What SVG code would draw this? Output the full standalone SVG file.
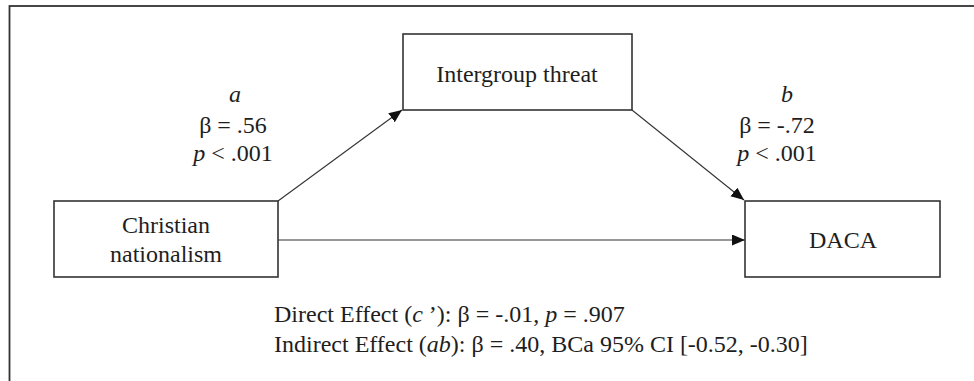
<svg xmlns="http://www.w3.org/2000/svg" width="974" height="381" viewBox="0 0 974 381">
<style>
text{font-family:"Liberation Serif","Times New Roman",serif;fill:#1e1e1e;font-size:24px}
.box{fill:#fff;stroke:#333;stroke-width:1.6}
.c{text-anchor:middle}
.i{font-style:italic}
.ln{stroke:#333;stroke-width:1.1;fill:none}
</style>
<defs>
<marker id="ah" markerUnits="userSpaceOnUse" markerWidth="14" markerHeight="12" refX="13" refY="5.5" orient="auto">
<path d="M0,0 L13,5.5 L0,11 z" fill="#111"/>
</marker>
</defs>
<rect x="9.5" y="6" width="1000" height="400" fill="#fff" stroke="#333" stroke-width="1.8"/>
<g id="connectors">
<line class="ln" x1="278" y1="201" x2="402" y2="110" marker-end="url(#ah)"/>
<line class="ln" x1="632" y1="110" x2="744" y2="200" marker-end="url(#ah)"/>
<line class="ln" x1="278" y1="240" x2="745" y2="240" marker-end="url(#ah)"/>
</g>
<g id="node-threat">
<rect class="box" x="403" y="34" width="229" height="76"/>
<text class="c" x="517" y="82">Intergroup threat</text>
</g>
<g id="node-cn">
<rect class="box" x="54" y="201" width="224" height="76"/>
<text class="c" x="166" y="233">Christian</text>
<text class="c" x="166" y="262">nationalism</text>
</g>
<g id="node-daca">
<rect class="box" x="745" y="201" width="195" height="76"/>
<text class="c" x="843" y="248">DACA</text>
</g>
<g id="label-a">
<text class="c i" x="235" y="102">a</text>
<text class="c" x="233" y="133">β = .56</text>
<text class="c" x="233" y="161"><tspan class="i">p</tspan> &lt; .001</text>
</g>
<g id="label-b">
<text class="c i" x="787" y="102">b</text>
<text class="c" x="777" y="133">β = -.72</text>
<text class="c" x="777" y="161"><tspan class="i">p</tspan> &lt; .001</text>
</g>
<g id="effects">
<text x="274" y="322">Direct Effect (<tspan class="i">c</tspan> ’): β = -.01, <tspan class="i">p</tspan> = .907</text>
<text x="274" y="352">Indirect Effect (<tspan class="i">ab</tspan>): β = .40, BCa 95% CI [-0.52, -0.30]</text>
</g>
</svg>
